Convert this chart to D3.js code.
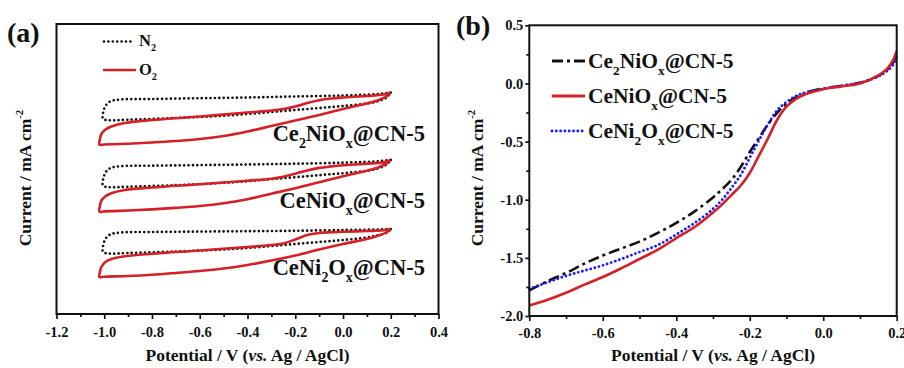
<!DOCTYPE html>
<html>
<head>
<meta charset="utf-8">
<script src="https://cdn.jsdelivr.net/npm/d3@7"></script>
<style>
  html, body { margin: 0; padding: 0; background: #fff; }
  svg text { font-family: "Liberation Serif", "Times New Roman", "DejaVu Serif", serif; font-weight: bold; fill: #111; }
</style>
</head>
<body>
<div id="chart"></div>
<script>
// ---- panel (a): CV curves, [potential V, current mA cm-2] relative to each stack offset
const cvOffsets = [0, -0.667, -1.33];
const cvLabels = [
  [['Ce'], ['2', 'sub'], ['NiO'], ['x', 'sub'], ['@CN-5']],
  [['CeNiO'], ['x', 'sub'], ['@CN-5']],
  [['CeNi'], ['2', 'sub'], ['O'], ['x', 'sub'], ['@CN-5']]
];
const cvN2 = [
  [[0.2, 0.065], [0.15, 0.05], [0.0, 0.035], [-0.2, 0.025], [-0.4, 0.015], [-0.6, 0.008], [-0.8, 0.0], [-0.93, -0.005],
   [-0.975, -0.025], [-0.995, -0.07], [-1.005, -0.14], [-1.005, -0.2], [-0.98, -0.212], [-0.9, -0.207], [-0.7, -0.19],
   [-0.5, -0.168], [-0.4, -0.15], [-0.3, -0.13], [-0.2, -0.11], [-0.1, -0.09], [0.0, -0.07], [0.1, -0.045], [0.15, -0.02],
   [0.185, 0.02], [0.2, 0.065]],
  [[0.2, 0.058], [0.15, 0.045], [0.0, 0.03], [-0.2, 0.02], [-0.4, 0.012], [-0.6, 0.006], [-0.8, 0.0], [-0.93, -0.005],
   [-0.975, -0.025], [-0.995, -0.07], [-1.005, -0.14], [-1.005, -0.2], [-0.98, -0.215], [-0.9, -0.21], [-0.7, -0.195],
   [-0.5, -0.172], [-0.4, -0.155], [-0.3, -0.135], [-0.2, -0.115], [-0.1, -0.095], [0.0, -0.075], [0.1, -0.05], [0.15, -0.025],
   [0.185, 0.015], [0.2, 0.058]],
  [[0.2, 0.03], [0.15, 0.025], [0.0, 0.02], [-0.2, 0.012], [-0.4, 0.008], [-0.6, 0.004], [-0.8, 0.0], [-0.93, -0.005],
   [-0.975, -0.025], [-0.995, -0.07], [-1.005, -0.14], [-1.005, -0.2], [-0.98, -0.215], [-0.9, -0.21], [-0.7, -0.195],
   [-0.5, -0.175], [-0.4, -0.16], [-0.3, -0.14], [-0.2, -0.12], [-0.1, -0.1], [0.0, -0.08], [0.1, -0.055], [0.15, -0.03],
   [0.185, -0.005], [0.2, 0.03]]
];
const cvO2 = [
  [[0.2, 0.065], [0.185, 0.03], [0.15, -0.01], [0.1, -0.045], [0.0, -0.1], [-0.1, -0.16], [-0.2, -0.215], [-0.3, -0.27],
   [-0.4, -0.325], [-0.5, -0.37], [-0.6, -0.4], [-0.7, -0.42], [-0.8, -0.435], [-0.9, -0.447], [-1.0, -0.455], [-1.02, -0.457],
   [-1.018, -0.4], [-1.012, -0.35], [-0.995, -0.305], [-0.97, -0.275], [-0.92, -0.243], [-0.8, -0.21], [-0.6, -0.175],
   [-0.4, -0.135], [-0.3, -0.115], [-0.25, -0.1], [-0.2, -0.075], [-0.15, -0.04], [-0.1, -0.012], [-0.05, 0.005],
   [0.0, 0.015], [0.1, 0.03], [0.17, 0.045], [0.2, 0.065]],
  [[0.2, 0.058], [0.185, 0.025], [0.15, -0.015], [0.1, -0.05], [0.0, -0.105], [-0.1, -0.165], [-0.2, -0.225], [-0.3, -0.28],
   [-0.4, -0.335], [-0.5, -0.375], [-0.6, -0.403], [-0.7, -0.422], [-0.8, -0.437], [-0.9, -0.448], [-1.0, -0.457], [-1.02, -0.46],
   [-1.018, -0.4], [-1.012, -0.35], [-0.995, -0.305], [-0.97, -0.275], [-0.92, -0.245], [-0.8, -0.218], [-0.6, -0.185],
   [-0.4, -0.15], [-0.3, -0.13], [-0.25, -0.11], [-0.2, -0.08], [-0.15, -0.048], [-0.1, -0.022], [-0.05, -0.007],
   [0.0, 0.005], [0.1, 0.02], [0.17, 0.035], [0.2, 0.058]],
  [[0.2, 0.03], [0.185, 0.0], [0.15, -0.035], [0.1, -0.07], [0.0, -0.12], [-0.1, -0.175], [-0.2, -0.235], [-0.3, -0.285],
   [-0.4, -0.33], [-0.5, -0.365], [-0.6, -0.39], [-0.7, -0.41], [-0.8, -0.428], [-0.9, -0.44], [-1.0, -0.447], [-1.02, -0.45],
   [-1.018, -0.4], [-1.012, -0.35], [-0.995, -0.3], [-0.97, -0.27], [-0.92, -0.245], [-0.8, -0.218], [-0.6, -0.185],
   [-0.4, -0.15], [-0.3, -0.13], [-0.25, -0.115], [-0.2, -0.075], [-0.15, -0.03], [-0.1, -0.01], [-0.05, -0.002],
   [0.0, 0.003], [0.1, 0.01], [0.17, 0.018], [0.2, 0.03]]
];
const aTicks = [-1.2, -1.0, -0.8, -0.6, -0.4, -0.2, 0.0, 0.2, 0.4];
const aMinor = [-1.1, -0.9, -0.7, -0.5, -0.3, -0.1, 0.1, 0.3];

// ---- panel (b): LSV curves
const lsvV = [-0.8, -0.75, -0.7, -0.65, -0.6, -0.55, -0.5, -0.45, -0.4, -0.35, -0.3, -0.275, -0.25, -0.225, -0.2,
  -0.175, -0.15, -0.125, -0.1, -0.075, -0.05, -0.025, 0, 0.05, 0.1, 0.15, 0.175, 0.19, 0.2];
const lsvCe2NiOx = [-1.78, -1.70, -1.63, -1.55, -1.48, -1.42, -1.36, -1.285, -1.20, -1.10, -0.98, -0.91, -0.83, -0.72, -0.59,
  -0.47, -0.35, -0.25, -0.175, -0.12, -0.085, -0.06, -0.045, -0.02, 0.005, 0.065, 0.12, 0.18, 0.26];
const lsvCeNiOx = [-1.91, -1.86, -1.80, -1.73, -1.665, -1.59, -1.51, -1.43, -1.33, -1.235, -1.11, -1.04, -0.96, -0.88, -0.77,
  -0.62, -0.47, -0.31, -0.2, -0.135, -0.095, -0.07, -0.05, -0.025, 0.0, 0.07, 0.13, 0.2, 0.28];
const lsvCeNi2Ox = [-1.765, -1.71, -1.655, -1.61, -1.565, -1.51, -1.45, -1.39, -1.30, -1.20, -1.08, -1.00, -0.90, -0.79, -0.64,
  -0.49, -0.35, -0.23, -0.16, -0.11, -0.08, -0.06, -0.045, -0.02, 0.005, 0.06, 0.11, 0.16, 0.23];
const bTicksX = [-0.8, -0.6, -0.4, -0.2, 0.0, 0.2];
const bMinorX = [-0.7, -0.5, -0.3, -0.1, 0.1];
const bTicksY = [-2.0, -1.5, -1.0, -0.5, 0.0, 0.5];
const bMinorY = [-1.75, -1.25, -0.75, -0.25, 0.25];

const red = '#d42027', blue = '#1a1aff', black = '#111';
const serif = '"Liberation Serif", "Times New Roman", "DejaVu Serif", serif';

const svg = d3.select('#chart').append('svg').attr('width', 904).attr('height', 368);
const fmt = d => d.toFixed(1);

function rich(g, x, y, segs, size, anchor) {
  const t = g.append('text').attr('x', x).attr('y', y).attr('font-size', size)
    .attr('font-family', serif).attr('font-weight', 'bold').attr('text-anchor', anchor || 'start');
  let shift = 0;
  segs.forEach(([s, k]) => {
    const target = k === 'sub' ? size * 0.32 : k === 'sup' ? -size * 0.45 : 0;
    t.append('tspan').attr('dy', target - shift).attr('font-size', k ? size * 0.62 : size).text(s);
    shift = target;
  });
  return t;
}

function styleAxis(g) {
  g.select('.domain').remove();
  g.selectAll('line').attr('stroke', black).attr('stroke-width', 1.7);
  g.selectAll('text').attr('font-size', 14.5).attr('fill', black)
    .attr('font-family', serif).attr('font-weight', 'bold');
}

// ================= panel (a)
const ax = d3.scaleLinear().domain([-1.2, 0.4]).range([56.5, 438.5]);
const ay = d3.scaleLinear().domain([-2.15, 0.75]).range([314, 24]);
const ga = svg.append('g');

ga.append('g').attr('transform', 'translate(0,314)')
  .call(d3.axisBottom(ax).tickValues(aMinor).tickSize(3).tickFormat(''))
  .call(styleAxis);
ga.append('g').attr('transform', 'translate(0,314)')
  .call(d3.axisBottom(ax).tickValues(aTicks).tickSize(5).tickPadding(7.5).tickFormat(fmt))
  .call(styleAxis);

const lineA = d3.line().x(d => ax(d[0])).curve(d3.curveCatmullRom.alpha(0.5));
cvOffsets.forEach((off, i) => {
  ga.append('path').datum(cvN2[i])
    .attr('d', lineA.y(d => ay(d[1] + off)))
    .attr('fill', 'none').attr('stroke', black).attr('stroke-width', 2.7)
    .attr('stroke-dasharray', '0,4.4').attr('stroke-linecap', 'round');
  ga.append('path').datum(cvO2[i])
    .attr('d', lineA.y(d => ay(d[1] + off)))
    .attr('fill', 'none').attr('stroke', red).attr('stroke-width', 2.6).attr('stroke-linejoin', 'round');
});

[141, 208, 275].forEach((yy, i) => rich(ga, 425, yy, cvLabels[i], 22.5, 'end'));

ga.append('rect').attr('x', 56.5).attr('y', 24).attr('width', 382).attr('height', 290)
  .attr('fill', 'none').attr('stroke', black).attr('stroke-width', 2);

// legend (a)
ga.append('line').attr('x1', 104).attr('x2', 133).attr('y1', 41.5).attr('y2', 41.5)
  .attr('stroke', black).attr('stroke-width', 2.7).attr('stroke-dasharray', '0,4.4').attr('stroke-linecap', 'round');
rich(ga, 139, 46, [['N'], ['2', 'sub']], 16.5);
ga.append('line').attr('x1', 103).attr('x2', 136).attr('y1', 70).attr('y2', 70)
  .attr('stroke', red).attr('stroke-width', 2.6);
rich(ga, 139, 75, [['O'], ['2', 'sub']], 16.5);

ga.append('text').attr('x', 7).attr('y', 42).attr('font-size', 28).text('(a)');
rich(ga, 0, 0, [['Current / mA cm'], ['-2', 'sup']], 17.5, 'middle')
  .attr('transform', 'translate(30.5,178) rotate(-90)');
rich(ga, 247.5, 361, [['Potential / V ('], ['vs.'], [' Ag / AgCl)']], 17.5, 'middle')
  .select('tspan:nth-child(2)').attr('font-style', 'italic');

// ================= panel (b)
const bx = d3.scaleLinear().domain([-0.8, 0.2]).range([529.3, 896.7]);
const by = d3.scaleLinear().domain([-2.0, 0.5]).range([316, 25.3]);
const gb = svg.append('g');

gb.append('g').attr('transform', 'translate(0,316)')
  .call(d3.axisBottom(bx).tickValues(bMinorX).tickSize(3).tickFormat(''))
  .call(styleAxis);
gb.append('g').attr('transform', 'translate(0,316)')
  .call(d3.axisBottom(bx).tickValues(bTicksX).tickSize(5).tickPadding(6.5).tickFormat(fmt))
  .call(styleAxis);
gb.append('g').attr('transform', 'translate(529.3,0)')
  .call(d3.axisLeft(by).tickValues(bMinorY).tickSize(3).tickFormat(''))
  .call(styleAxis);
gb.append('g').attr('transform', 'translate(529.3,0)')
  .call(d3.axisLeft(by).tickValues(bTicksY).tickSize(4).tickPadding(2).tickFormat(fmt))
  .call(styleAxis);

const lsvSeries = [
  { values: lsvCe2NiOx, color: black, dash: '11,4,3,4', cap: 'butt' },
  { values: lsvCeNi2Ox, color: blue, dash: '0,4.3', cap: 'round' },
  { values: lsvCeNiOx, color: red, dash: null, cap: 'butt' }
];
const lineB = d3.line().x((d, i) => bx(lsvV[i])).y(d => by(d)).curve(d3.curveCatmullRom.alpha(0.5));
lsvSeries.forEach(s => {
  gb.append('path').datum(s.values).attr('d', lineB)
    .attr('fill', 'none').attr('stroke', s.color).attr('stroke-width', s.cap === 'round' ? 2.9 : 2.6)
    .attr('stroke-dasharray', s.dash).attr('stroke-linecap', s.cap);
});

gb.append('rect').attr('x', 529.3).attr('y', 25.3).attr('width', 367.4).attr('height', 290.7)
  .attr('fill', 'none').attr('stroke', black).attr('stroke-width', 2);

// legend (b)
const legendB = [
  { label: cvLabels[0], color: black, dash: '11,4,3,4', cap: 'butt', y: 61 },
  { label: cvLabels[1], color: red, dash: null, cap: 'butt', y: 96 },
  { label: cvLabels[2], color: blue, dash: '0,4.3', cap: 'round', y: 131 }
];
legendB.forEach(l => {
  gb.append('line').attr('x1', 552).attr('x2', 585).attr('y1', l.y).attr('y2', l.y)
    .attr('stroke', l.color).attr('stroke-width', l.cap === 'round' ? 2.9 : 2.8)
    .attr('stroke-dasharray', l.dash).attr('stroke-linecap', l.cap);
  rich(gb, 588, l.y + 7, l.label, 21.5);
});

gb.append('text').attr('x', 456).attr('y', 35).attr('font-size', 28).text('(b)');
rich(gb, 0, 0, [['Current / mA cm'], ['-2', 'sup']], 17.5, 'middle')
  .attr('transform', 'translate(483,178) rotate(-90)');
rich(gb, 713, 361, [['Potential / V ('], ['vs.'], [' Ag / AgCl)']], 17.5, 'middle')
  .select('tspan:nth-child(2)').attr('font-style', 'italic');
</script>
</body>
</html>
